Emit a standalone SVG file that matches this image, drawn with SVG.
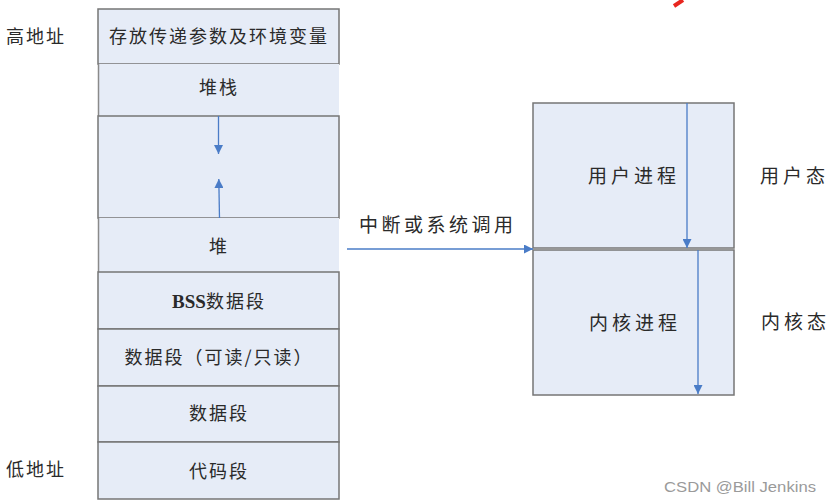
<svg xmlns="http://www.w3.org/2000/svg" width="831" height="503" viewBox="0 0 831 503">
<defs>
<style>
.box{fill:#e6ecf7;stroke:#767676;stroke-width:1.5}
.fill{fill:#e6ecf7;stroke:none}
.lb{stroke:#8a8a8a;stroke-width:1.5}
.t{font-family:"Noto Sans CJK SC","Noto Sans",sans-serif;font-size:18px;fill:#2a2a2a;letter-spacing:2px;text-anchor:middle}
.t19{font-family:"Noto Sans CJK SC","Noto Sans",sans-serif;font-size:19px;fill:#2a2a2a;letter-spacing:4px}
.conn{stroke:#4a7cc7;stroke-width:1.3;fill:none}
</style>
<marker id="ah" viewBox="0 0 10 10" refX="10" refY="5" markerWidth="10" markerHeight="9" markerUnits="userSpaceOnUse" orient="auto">
<path d="M0,0 L10,5 L0,10 Z" fill="#4a7cc7"/>
</marker>
</defs>
<rect width="831" height="503" fill="#ffffff"/>
<path d="M674,6 L683,0" stroke="#e8261f" stroke-width="4"/>

<g id="addr-labels">
<text class="t" x="6" y="43" style="text-anchor:start">高地址</text>
<text class="t" x="6" y="476" style="text-anchor:start">低地址</text>
</g>

<g id="node-env">
<rect class="box" x="98" y="9" width="241" height="55"/>
<text class="t" x="219" y="43">存放传递参数及环境变量</text>
</g>
<g id="node-stack">
<rect class="fill" x="98" y="64" width="241" height="52"/>
<line class="lb" x1="98.5" y1="64" x2="98.5" y2="116"/>
<text class="t" x="219" y="94">堆栈</text>
</g>
<g id="node-gap">
<rect class="box" x="98" y="116" width="241" height="102"/>
</g>
<g id="node-heap">
<rect class="fill" x="98" y="218" width="241" height="54"/>
<line class="lb" x1="98.5" y1="218" x2="98.5" y2="272"/>
<text class="t" x="219" y="253">堆</text>
</g>
<g id="node-bss">
<rect class="box" x="98" y="272" width="241" height="57"/>
<text class="t" x="219" y="308"><tspan style="font-family:'Liberation Serif',serif;font-weight:bold;font-size:19px;letter-spacing:0">BSS</tspan>数据段</text>
</g>
<g id="node-data-ro">
<rect class="box" x="98" y="329" width="241" height="57"/>
<text class="t" x="219" y="364">数据段（可读/只读）</text>
</g>
<g id="node-data">
<rect class="box" x="98" y="386" width="241" height="56"/>
<text class="t" x="219" y="420">数据段</text>
</g>
<g id="node-code">
<rect class="box" x="98" y="442" width="241" height="57"/>
<text class="t" x="219" y="478">代码段</text>
</g>

<g id="node-user">
<rect class="box" x="533" y="103" width="201" height="145"/>
<text class="t19" x="588" y="183">用户进程</text>
</g>
<g id="node-kernel">
<rect class="box" x="533" y="250" width="201" height="145"/>
<text class="t19" x="589" y="330">内核进程</text>
</g>

<g id="state-labels">
<text class="t19" x="760" y="183">用户态</text>
<text class="t19" x="761" y="329">内核态</text>
</g>

<g id="connectors">
<line class="conn" x1="218.5" y1="116" x2="218.5" y2="154" marker-end="url(#ah)"/>
<line class="conn" x1="219.5" y1="218" x2="218.8" y2="179" marker-end="url(#ah)"/>
<line class="conn" x1="347" y1="249" x2="533" y2="249" marker-end="url(#ah)"/>
<line class="conn" x1="687" y1="103" x2="687" y2="248" marker-end="url(#ah)"/>
<line class="conn" x1="698" y1="250" x2="698" y2="394" marker-end="url(#ah)"/>
<text x="359" y="232" style="font-family:'Noto Sans CJK SC','Noto Sans',sans-serif;font-size:19px;fill:#2a2a2a;letter-spacing:3.5px">中断或系统调用</text>
</g>

<text x="664" y="492" textLength="152" lengthAdjust="spacingAndGlyphs" style="font-family:'Liberation Sans',Arial,sans-serif;font-size:15px;fill:#9a9a9a">CSDN @Bill Jenkins</text>
</svg>
